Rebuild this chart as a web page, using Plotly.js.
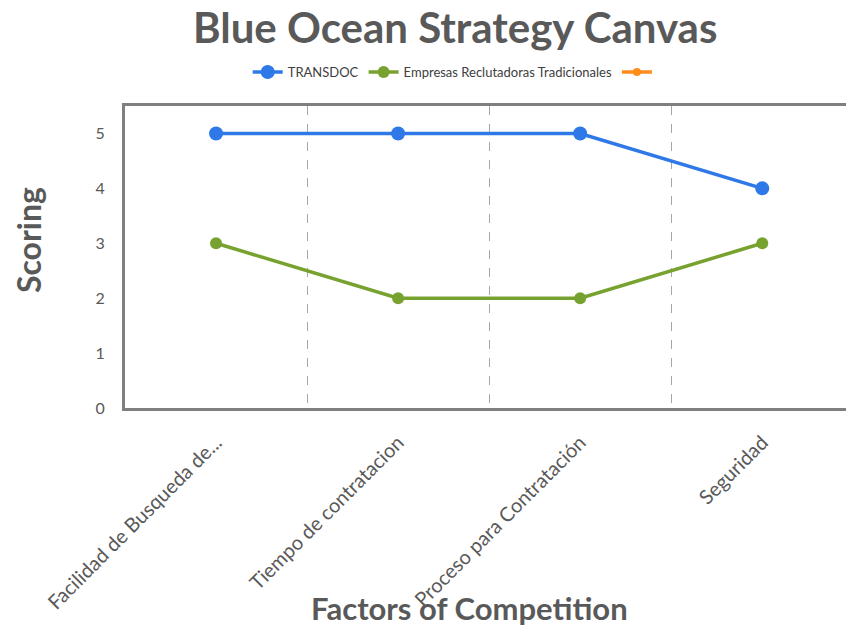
<!DOCTYPE html>
<html>
<head>
<meta charset="utf-8">
<script src="https://cdn.plot.ly/plotly-3.0.1.min.js"></script>
<style>html,body{margin:0;padding:0;background:#fff;}#chart{width:846px;height:627px;}</style>
</head>
<body>
<div id="chart"></div>
<script>
const factors = ["Facilidad de Busqueda de...", "Tiempo de contratacion", "Proceso para Contratación", "Seguridad"];
const transdoc = [5, 5, 5, 4];
const tradicionales = [3, 2, 2, 3];
const thirdSeries = [null, null, null, null];
const seriesNames = ["TRANSDOC", "Empresas Reclutadoras Tradicionales", ""];
const yTicks = [0, 1, 2, 3, 4, 5];

const fontFam = "Lato, 'Open Sans', sans-serif";
const grey = "#595959";

const traces = [
  {x: factors, y: transdoc, name: seriesNames[0], type: "scatter", mode: "lines+markers",
   line: {color: "#2F78E8", width: 3.5}, marker: {color: "#2F78E8", size: 14}},
  {x: factors, y: tradicionales, name: seriesNames[1], type: "scatter", mode: "lines+markers",
   line: {color: "#78A22F", width: 3.5}, marker: {color: "#78A22F", size: 12}},
  {x: factors, y: thirdSeries, name: seriesNames[2], type: "scatter", mode: "lines+markers",
   line: {color: "#FF8C1A", width: 3.5}, marker: {color: "#FF8C1A", size: 8}, showlegend: true}
];

const layout = {
  width: 846, height: 627,
  margin: {l: 125, r: 0, t: 106, b: 219},
  paper_bgcolor: "#fff", plot_bgcolor: "#fff",
  font: {family: fontFam, color: grey},
  title: {text: "<b>Blue Ocean Strategy Canvas</b>", font: {size: 42, color: grey, family: fontFam},
          x: 0.538, xanchor: "center", y: 0.955, yanchor: "middle", xref: "container", yref: "container"},
  showlegend: true,
  legend: {orientation: "h", x: 0.458, xanchor: "center", y: 1.1126, yanchor: "middle",
           font: {size: 13, color: "#404040"}, itemwidth: 30, tracegroupgap: 0, traceorder: "normal"},
  xaxis: {
    type: "category", range: [-0.5, 3.46], fixedrange: true,
    showline: true, linecolor: "#808080", linewidth: 3, mirror: true,
    showgrid: true, gridcolor: "#A6A6A6", gridwidth: 1, griddash: "dash", tickson: "boundaries",
    ticks: "", tickangle: -45, tickfont: {size: 20, color: grey, family: fontFam},
    ticklabelstandoff: 12,
    zeroline: false,
    title: {text: ""}
  },
  yaxis: {
    range: [0, 5.5], fixedrange: true, tickvals: yTicks,
    showline: true, linecolor: "#808080", linewidth: 3,
    showgrid: false, zeroline: false, ticks: "",
    tickfont: {size: 16, color: grey, family: fontFam}, ticklabelstandoff: 14,
    title: {text: ""}
  },
  annotations: [
    {text: "<b>Scoring</b>", xref: "paper", yref: "paper", x: -0.1345, y: 0.556,
     xanchor: "center", yanchor: "middle", textangle: -90, showarrow: false,
     font: {size: 32, color: grey, family: fontFam}},
    {text: "<b>Factors of Competition</b>", xref: "paper", yref: "paper", x: 0.4785, y: -0.662,
     xanchor: "center", yanchor: "middle", showarrow: false,
     font: {size: 31, color: grey, family: fontFam}}
  ]
};

Plotly.newPlot("chart", traces, layout, {displayModeBar: false, staticPlot: true});
</script>
</body>
</html>
